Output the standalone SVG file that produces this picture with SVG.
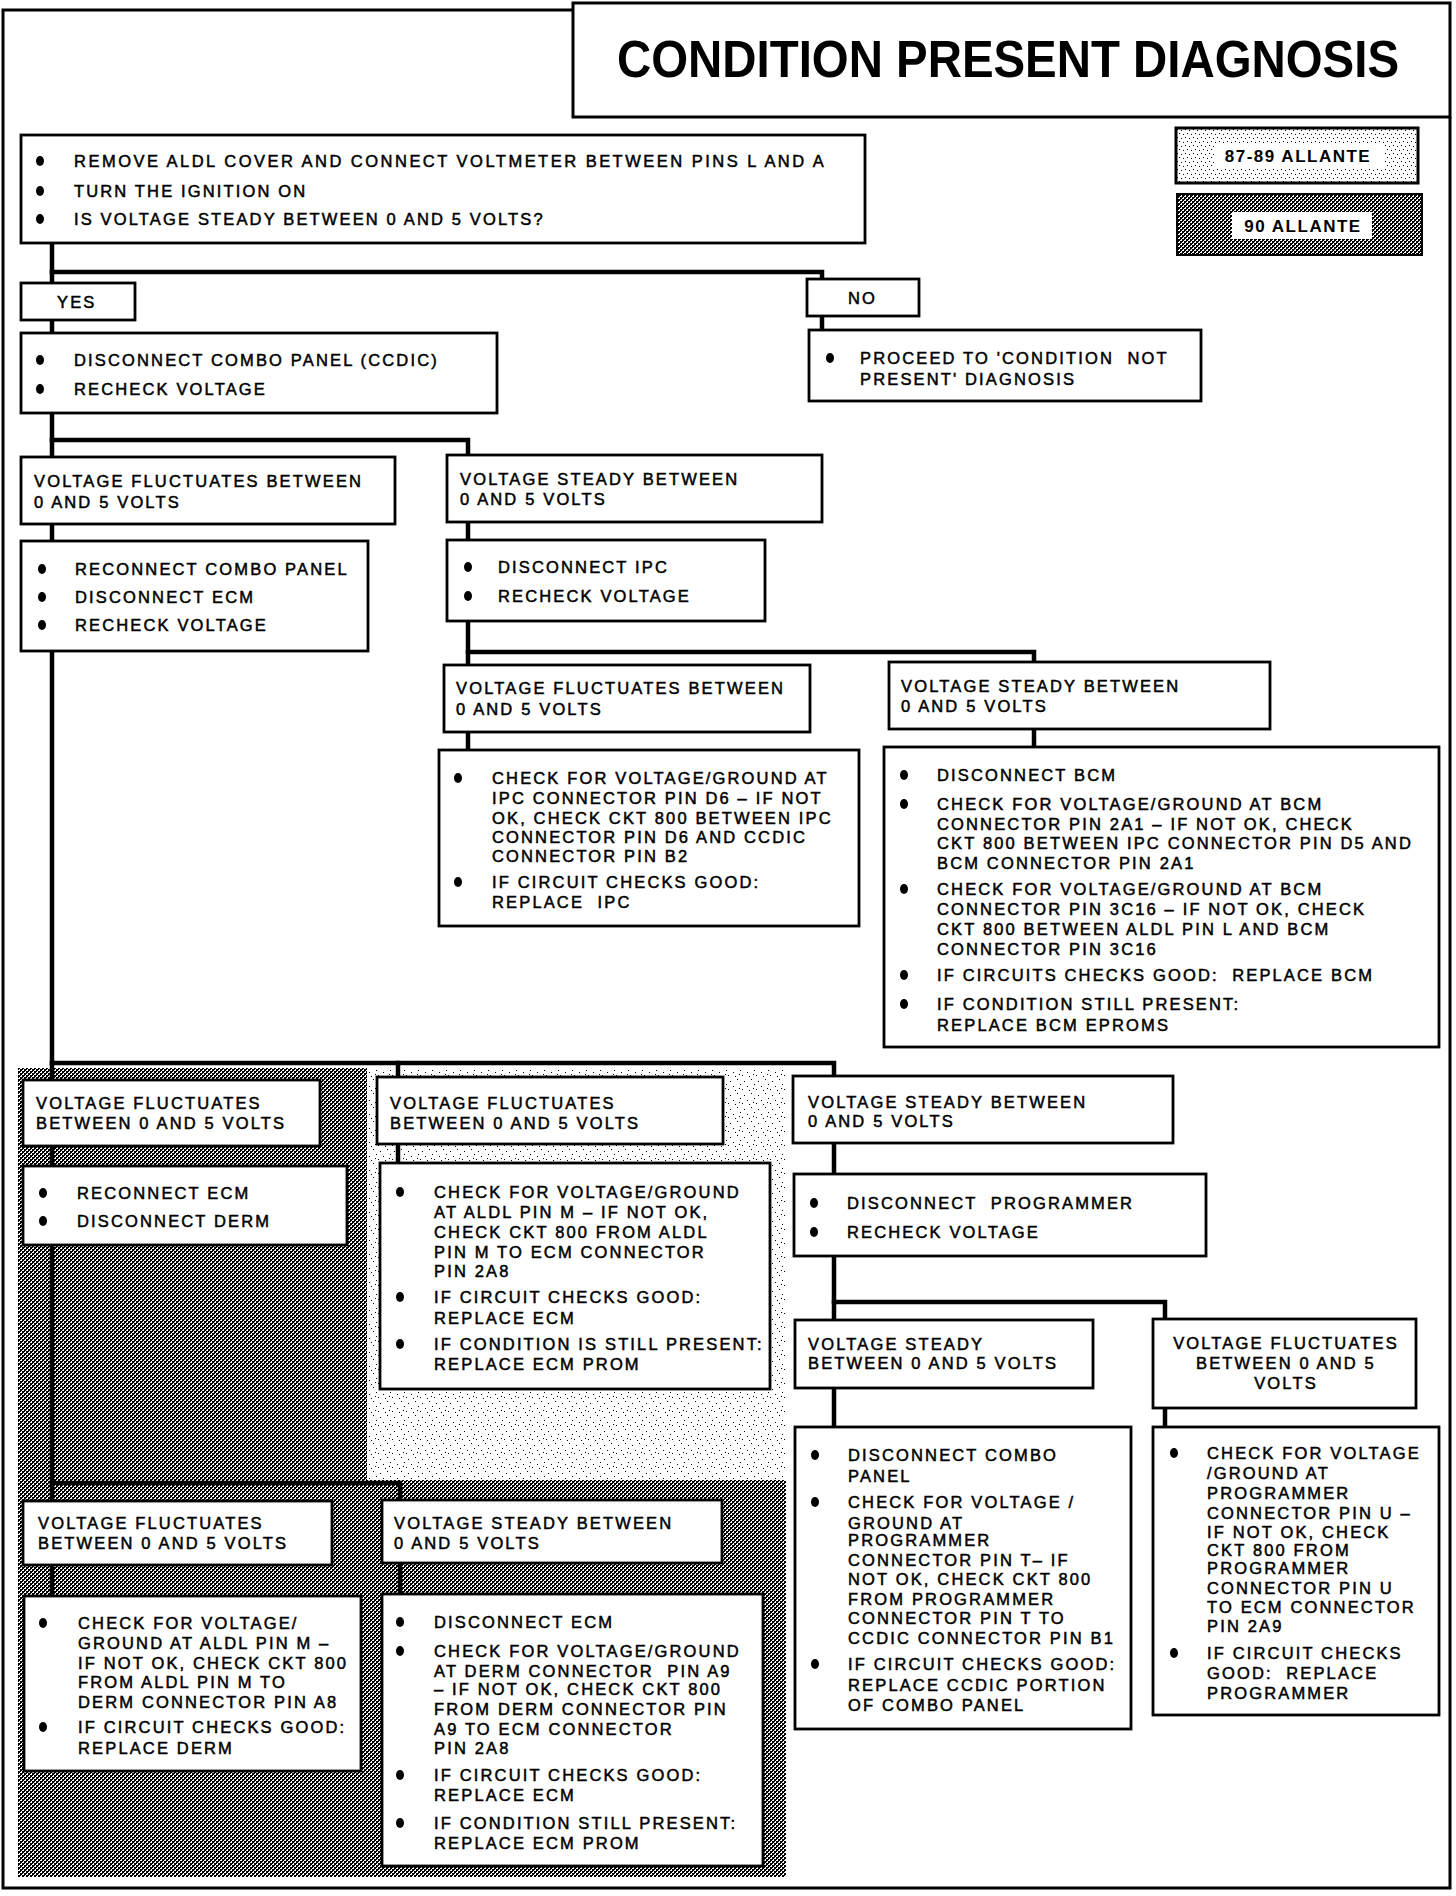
<svg xmlns="http://www.w3.org/2000/svg" width="1456" height="1896" viewBox="0 0 1456 1896">
<style>
.t{font-family:"Liberation Sans",Arial,Helvetica,sans-serif;font-size:16.5px;letter-spacing:2.15px;fill:#000;stroke:#000;stroke-width:0.5px}
.box{fill:#fff;stroke:#000;stroke-width:2.8}
.con{fill:none;stroke:#000;stroke-width:4.5;stroke-linejoin:miter;stroke-linecap:square}
.frame{fill:none;stroke:#000;stroke-width:3}
.b{fill:#000}
.leg{font-family:"Liberation Sans",Arial,sans-serif;font-weight:bold;font-size:17px;letter-spacing:1.5px;fill:#000}
</style>
<defs>
<pattern id="dark" width="4" height="4" patternUnits="userSpaceOnUse">
<rect width="4" height="4" fill="#000"/>
<rect x="0" y="0" width="2" height="1" fill="#fff"/>
<rect x="3" y="1" width="1" height="1" fill="#fff"/>
<rect x="2" y="2" width="2" height="1" fill="#fff"/>
<rect x="1" y="3" width="1" height="1" fill="#fff"/>
</pattern>
<pattern id="light" width="14" height="14" patternUnits="userSpaceOnUse">
<rect width="14" height="14" fill="#fff"/>
<rect x="2" y="3" width="1" height="1" fill="#000"/>
<rect x="9" y="1" width="1" height="1" fill="#000"/>
<rect x="5" y="8" width="1" height="1" fill="#000"/>
<rect x="12" y="6" width="1" height="1" fill="#000"/>
<rect x="0" y="11" width="1" height="1" fill="#000"/>
<rect x="7" y="12" width="1" height="1" fill="#000"/>
<rect x="11" y="10" width="1" height="1" fill="#000"/>
</pattern>
<pattern id="legLight" width="8" height="8" patternUnits="userSpaceOnUse">
<rect width="8" height="8" fill="#fff"/>
<rect x="1" y="1" width="1" height="1" fill="#000"/>
<rect x="5" y="2" width="1" height="1" fill="#000"/>
<rect x="3" y="5" width="1" height="1" fill="#000"/>
<rect x="7" y="6" width="1" height="1" fill="#000"/>
</pattern>
</defs>

<rect width="1456" height="1896" fill="#fff"/>

<g id="background-shading">
<path d="M18,1068 H367 V1480 H786 V1877 H18 Z" fill="url(#dark)"/>
<rect x="367" y="1068" width="419" height="412" fill="url(#light)"/>
</g>

<g id="frame">
<path class="frame" d="M573,10 H3 V1888 H1450 V117"/>
</g>

<g id="title">
<rect x="573" y="3" width="877" height="114" fill="#fff" stroke="#000" stroke-width="3"/>
<text x="617" y="77" font-family="Liberation Sans, Arial, sans-serif" font-weight="bold" font-size="51" textLength="782" lengthAdjust="spacingAndGlyphs">CONDITION PRESENT DIAGNOSIS</text>
</g>

<g id="legend-87-89">
<rect x="1176" y="128" width="242" height="55" fill="url(#legLight)" stroke="#000" stroke-width="3"/>
<rect x="1214" y="144" width="170" height="24" fill="#fff"/>
<text class="leg" x="1298" y="162" text-anchor="middle">87-89 ALLANTE</text>
</g>
<g id="legend-90">
<rect x="1177" y="194" width="245" height="61" fill="url(#dark)" stroke="#000" stroke-width="2"/>
<rect x="1232" y="212" width="140" height="27" fill="#fff"/>
<text class="leg" x="1303" y="232" text-anchor="middle">90 ALLANTE</text>
</g>

<g id="connectors">
<path class="con" d="M52,243 V1596"/>
<path class="con" d="M52,272 H822 V330"/>
<path class="con" d="M52,440 H468 V750"/>
<path class="con" d="M468,652 H1034 V747"/>
<path class="con" d="M52,1063 H834 V1427"/>
<path class="con" d="M398,1063 V1163"/>
<path class="con" d="M52,1483 H400 V1594"/>
<path class="con" d="M834,1302 H1165 V1427"/>
</g>

<g id="n-start">
<rect class="box" x="21" y="135" width="844" height="108"/>
<ellipse class="b" cx="40" cy="161" rx="4" ry="5"/>
<ellipse class="b" cx="40" cy="191" rx="4" ry="5"/>
<ellipse class="b" cx="40" cy="219" rx="4" ry="5"/>
<text class="t" x="74" y="167" textLength="752" lengthAdjust="spacing">REMOVE ALDL COVER AND CONNECT VOLTMETER BETWEEN PINS L AND A</text>
<text class="t" x="74" y="197">TURN THE IGNITION ON</text>
<text class="t" x="74" y="225">IS VOLTAGE STEADY BETWEEN 0 AND 5 VOLTS?</text>
</g>

<g id="n-yes">
<rect class="box" x="21" y="283" width="114" height="37"/>
<text class="t" x="57" y="308">YES</text>
</g>

<g id="n-no">
<rect class="box" x="807" y="279" width="112" height="37"/>
<text class="t" x="848" y="304">NO</text>
</g>

<g id="n-disconnect-combo">
<rect class="box" x="21" y="333" width="476" height="80"/>
<ellipse class="b" cx="40" cy="360" rx="4" ry="5"/>
<ellipse class="b" cx="40" cy="389" rx="4" ry="5"/>
<text class="t" x="74" y="366">DISCONNECT COMBO PANEL (CCDIC)</text>
<text class="t" x="74" y="395">RECHECK VOLTAGE</text>
</g>

<g id="n-proceed">
<rect class="box" x="809" y="330" width="392" height="71"/>
<ellipse class="b" cx="830" cy="358" rx="4" ry="5"/>
<text class="t" x="860" y="364" xml:space="preserve">PROCEED TO 'CONDITION  NOT</text>
<text class="t" x="860" y="385">PRESENT' DIAGNOSIS</text>
</g>

<g id="n-a1">
<rect class="box" x="21" y="457" width="374" height="67"/>
<text class="t" x="34" y="487">VOLTAGE FLUCTUATES BETWEEN</text>
<text class="t" x="34" y="508">0 AND 5 VOLTS</text>
</g>

<g id="n-b1">
<rect class="box" x="447" y="455" width="375" height="67"/>
<text class="t" x="460" y="485">VOLTAGE STEADY BETWEEN</text>
<text class="t" x="460" y="505">0 AND 5 VOLTS</text>
</g>

<g id="n-a2">
<rect class="box" x="21" y="541" width="347" height="110"/>
<ellipse class="b" cx="42" cy="569" rx="4" ry="5"/>
<ellipse class="b" cx="42" cy="597" rx="4" ry="5"/>
<ellipse class="b" cx="42" cy="625" rx="4" ry="5"/>
<text class="t" x="75" y="575">RECONNECT COMBO PANEL</text>
<text class="t" x="75" y="603">DISCONNECT ECM</text>
<text class="t" x="75" y="631">RECHECK VOLTAGE</text>
</g>

<g id="n-b2">
<rect class="box" x="447" y="540" width="318" height="81"/>
<ellipse class="b" cx="468" cy="567" rx="4" ry="5"/>
<ellipse class="b" cx="468" cy="596" rx="4" ry="5"/>
<text class="t" x="498" y="573">DISCONNECT IPC</text>
<text class="t" x="498" y="602">RECHECK VOLTAGE</text>
</g>

<g id="n-c1">
<rect class="box" x="444" y="665" width="366" height="67"/>
<text class="t" x="456" y="694">VOLTAGE FLUCTUATES BETWEEN</text>
<text class="t" x="456" y="715">0 AND 5 VOLTS</text>
</g>

<g id="n-d1">
<rect class="box" x="889" y="662" width="381" height="67"/>
<text class="t" x="901" y="692">VOLTAGE STEADY BETWEEN</text>
<text class="t" x="901" y="712">0 AND 5 VOLTS</text>
</g>

<g id="n-c2">
<rect class="box" x="439" y="750" width="420" height="176"/>
<ellipse class="b" cx="458" cy="778" rx="4" ry="5"/>
<ellipse class="b" cx="458" cy="882" rx="4" ry="5"/>
<text class="t" x="492" y="784">CHECK FOR VOLTAGE/GROUND AT</text>
<text class="t" x="492" y="804">IPC CONNECTOR PIN D6 – IF NOT</text>
<text class="t" x="492" y="824">OK, CHECK CKT 800 BETWEEN IPC</text>
<text class="t" x="492" y="843">CONNECTOR PIN D6 AND CCDIC</text>
<text class="t" x="492" y="862">CONNECTOR PIN B2</text>
<text class="t" x="492" y="888">IF CIRCUIT CHECKS GOOD:</text>
<text class="t" x="492" y="908" xml:space="preserve">REPLACE  IPC</text>
</g>

<g id="n-d2">
<rect class="box" x="884" y="747" width="555" height="300"/>
<ellipse class="b" cx="904" cy="775" rx="4" ry="5"/>
<ellipse class="b" cx="904" cy="804" rx="4" ry="5"/>
<ellipse class="b" cx="904" cy="889" rx="4" ry="5"/>
<ellipse class="b" cx="904" cy="975" rx="4" ry="5"/>
<ellipse class="b" cx="904" cy="1004" rx="4" ry="5"/>
<text class="t" x="937" y="781">DISCONNECT BCM</text>
<text class="t" x="937" y="810">CHECK FOR VOLTAGE/GROUND AT BCM</text>
<text class="t" x="937" y="830">CONNECTOR PIN 2A1 – IF NOT OK, CHECK</text>
<text class="t" x="937" y="849">CKT 800 BETWEEN IPC CONNECTOR PIN D5 AND</text>
<text class="t" x="937" y="869">BCM CONNECTOR PIN 2A1</text>
<text class="t" x="937" y="895">CHECK FOR VOLTAGE/GROUND AT BCM</text>
<text class="t" x="937" y="915">CONNECTOR PIN 3C16 – IF NOT OK, CHECK</text>
<text class="t" x="937" y="935">CKT 800 BETWEEN ALDL PIN L AND BCM</text>
<text class="t" x="937" y="955">CONNECTOR PIN 3C16</text>
<text class="t" x="937" y="981" xml:space="preserve">IF CIRCUITS CHECKS GOOD:  REPLACE BCM</text>
<text class="t" x="937" y="1010">IF CONDITION STILL PRESENT:</text>
<text class="t" x="937" y="1031">REPLACE BCM EPROMS</text>
</g>

<g id="n-e1">
<rect class="box" x="23" y="1080" width="297" height="66"/>
<text class="t" x="36" y="1109">VOLTAGE FLUCTUATES</text>
<text class="t" x="36" y="1129">BETWEEN 0 AND 5 VOLTS</text>
</g>

<g id="n-e2">
<rect class="box" x="23" y="1166" width="324" height="79"/>
<ellipse class="b" cx="43" cy="1193" rx="4" ry="5"/>
<ellipse class="b" cx="43" cy="1221" rx="4" ry="5"/>
<text class="t" x="77" y="1199">RECONNECT ECM</text>
<text class="t" x="77" y="1227">DISCONNECT DERM</text>
</g>

<g id="n-f1">
<rect class="box" x="377" y="1077" width="346" height="67"/>
<text class="t" x="390" y="1109">VOLTAGE FLUCTUATES</text>
<text class="t" x="390" y="1129">BETWEEN 0 AND 5 VOLTS</text>
</g>

<g id="n-f2">
<rect class="box" x="380" y="1163" width="390" height="226"/>
<ellipse class="b" cx="400" cy="1192" rx="4" ry="5"/>
<ellipse class="b" cx="400" cy="1297" rx="4" ry="5"/>
<ellipse class="b" cx="400" cy="1344" rx="4" ry="5"/>
<text class="t" x="434" y="1198">CHECK FOR VOLTAGE/GROUND</text>
<text class="t" x="434" y="1218">AT ALDL PIN M – IF NOT OK,</text>
<text class="t" x="434" y="1238">CHECK CKT 800 FROM ALDL</text>
<text class="t" x="434" y="1258">PIN M TO ECM CONNECTOR</text>
<text class="t" x="434" y="1277">PIN 2A8</text>
<text class="t" x="434" y="1303">IF CIRCUIT CHECKS GOOD:</text>
<text class="t" x="434" y="1324">REPLACE ECM</text>
<text class="t" x="434" y="1350">IF CONDITION IS STILL PRESENT:</text>
<text class="t" x="434" y="1370">REPLACE ECM PROM</text>
</g>

<g id="n-g1">
<rect class="box" x="23" y="1501" width="309" height="64"/>
<text class="t" x="38" y="1529">VOLTAGE FLUCTUATES</text>
<text class="t" x="38" y="1549">BETWEEN 0 AND 5 VOLTS</text>
</g>

<g id="n-g2">
<rect class="box" x="24" y="1596" width="337" height="175"/>
<ellipse class="b" cx="43" cy="1623" rx="4" ry="5"/>
<ellipse class="b" cx="43" cy="1727" rx="4" ry="5"/>
<text class="t" x="78" y="1629">CHECK FOR VOLTAGE/</text>
<text class="t" x="78" y="1649">GROUND AT ALDL PIN M –</text>
<text class="t" x="78" y="1669">IF NOT OK, CHECK CKT 800</text>
<text class="t" x="78" y="1688">FROM ALDL PIN M TO</text>
<text class="t" x="78" y="1708">DERM CONNECTOR PIN A8</text>
<text class="t" x="78" y="1733">IF CIRCUIT CHECKS GOOD:</text>
<text class="t" x="78" y="1754">REPLACE DERM</text>
</g>

<g id="n-h1">
<rect class="box" x="382" y="1500" width="340" height="63"/>
<text class="t" x="394" y="1529">VOLTAGE STEADY BETWEEN</text>
<text class="t" x="394" y="1549">0 AND 5 VOLTS</text>
</g>

<g id="n-h2">
<rect class="box" x="382" y="1594" width="381" height="272"/>
<ellipse class="b" cx="400" cy="1622" rx="4" ry="5"/>
<ellipse class="b" cx="400" cy="1651" rx="4" ry="5"/>
<ellipse class="b" cx="400" cy="1775" rx="4" ry="5"/>
<ellipse class="b" cx="400" cy="1823" rx="4" ry="5"/>
<text class="t" x="434" y="1628">DISCONNECT ECM</text>
<text class="t" x="434" y="1657">CHECK FOR VOLTAGE/GROUND</text>
<text class="t" x="434" y="1677" xml:space="preserve">AT DERM CONNECTOR  PIN A9</text>
<text class="t" x="434" y="1695">– IF NOT OK, CHECK CKT 800</text>
<text class="t" x="434" y="1715">FROM DERM CONNECTOR PIN</text>
<text class="t" x="434" y="1735">A9 TO ECM CONNECTOR</text>
<text class="t" x="434" y="1754">PIN 2A8</text>
<text class="t" x="434" y="1781">IF CIRCUIT CHECKS GOOD:</text>
<text class="t" x="434" y="1801">REPLACE ECM</text>
<text class="t" x="434" y="1829">IF CONDITION STILL PRESENT:</text>
<text class="t" x="434" y="1849">REPLACE ECM PROM</text>
</g>

<g id="n-i1">
<rect class="box" x="793" y="1076" width="380" height="67"/>
<text class="t" x="808" y="1108">VOLTAGE STEADY BETWEEN</text>
<text class="t" x="808" y="1127">0 AND 5 VOLTS</text>
</g>

<g id="n-i2">
<rect class="box" x="794" y="1174" width="412" height="82"/>
<ellipse class="b" cx="814" cy="1203" rx="4" ry="5"/>
<ellipse class="b" cx="814" cy="1232" rx="4" ry="5"/>
<text class="t" x="847" y="1209" xml:space="preserve">DISCONNECT  PROGRAMMER</text>
<text class="t" x="847" y="1238">RECHECK VOLTAGE</text>
</g>

<g id="n-j1">
<rect class="box" x="795" y="1320" width="298" height="68"/>
<text class="t" x="808" y="1350">VOLTAGE STEADY</text>
<text class="t" x="808" y="1369">BETWEEN 0 AND 5 VOLTS</text>
</g>

<g id="n-k1">
<rect class="box" x="1153" y="1319" width="263" height="89"/>
<text class="t" x="1286" y="1349" text-anchor="middle">VOLTAGE FLUCTUATES</text>
<text class="t" x="1286" y="1369" text-anchor="middle">BETWEEN 0 AND 5</text>
<text class="t" x="1286" y="1389" text-anchor="middle">VOLTS</text>
</g>

<g id="n-j2">
<rect class="box" x="795" y="1427" width="336" height="302"/>
<ellipse class="b" cx="815" cy="1455" rx="4" ry="5"/>
<ellipse class="b" cx="815" cy="1502" rx="4" ry="5"/>
<ellipse class="b" cx="815" cy="1664" rx="4" ry="5"/>
<text class="t" x="848" y="1461">DISCONNECT COMBO</text>
<text class="t" x="848" y="1482">PANEL</text>
<text class="t" x="848" y="1508">CHECK FOR VOLTAGE /</text>
<text class="t" x="848" y="1529">GROUND AT</text>
<text class="t" x="848" y="1546">PROGRAMMER</text>
<text class="t" x="848" y="1566">CONNECTOR PIN T– IF</text>
<text class="t" x="848" y="1585">NOT OK, CHECK CKT 800</text>
<text class="t" x="848" y="1605">FROM PROGRAMMER</text>
<text class="t" x="848" y="1624">CONNECTOR PIN T TO</text>
<text class="t" x="848" y="1644">CCDIC CONNECTOR PIN B1</text>
<text class="t" x="848" y="1670">IF CIRCUIT CHECKS GOOD:</text>
<text class="t" x="848" y="1691">REPLACE CCDIC PORTION</text>
<text class="t" x="848" y="1711">OF COMBO PANEL</text>
</g>

<g id="n-k2">
<rect class="box" x="1153" y="1427" width="286" height="288"/>
<ellipse class="b" cx="1174" cy="1453" rx="4" ry="5"/>
<ellipse class="b" cx="1174" cy="1653" rx="4" ry="5"/>
<text class="t" x="1207" y="1459">CHECK FOR VOLTAGE</text>
<text class="t" x="1207" y="1479">/GROUND AT</text>
<text class="t" x="1207" y="1499">PROGRAMMER</text>
<text class="t" x="1207" y="1519">CONNECTOR PIN U –</text>
<text class="t" x="1207" y="1538">IF NOT OK, CHECK</text>
<text class="t" x="1207" y="1556">CKT 800 FROM</text>
<text class="t" x="1207" y="1574">PROGRAMMER</text>
<text class="t" x="1207" y="1594">CONNECTOR PIN U</text>
<text class="t" x="1207" y="1613">TO ECM CONNECTOR</text>
<text class="t" x="1207" y="1632">PIN 2A9</text>
<text class="t" x="1207" y="1659">IF CIRCUIT CHECKS</text>
<text class="t" x="1207" y="1679" xml:space="preserve">GOOD:  REPLACE</text>
<text class="t" x="1207" y="1699">PROGRAMMER</text>
</g>
</svg>
